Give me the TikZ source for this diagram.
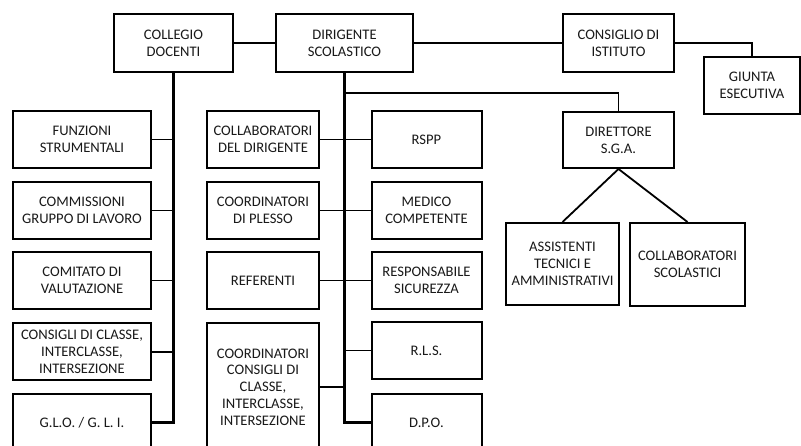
\documentclass[tikz,border=0pt]{standalone}
\usepackage{fontspec}
\setmainfont{Carlito}
\usepackage{xcolor}
\usetikzlibrary{positioning,calc}

\begin{document}
\begin{tikzpicture}[x=1pt,y=-1pt,
    box/.style={draw,line width=2pt,align=center,inner sep=1pt,text=black!90,
        font=\fontsize{14.6}{16.8}\selectfont},
    link/.style={line width=1.8pt},
    trunk/.style={line width=2.4pt}]
    \clip (0,0) rectangle (801,446);
    \fill[white] (0,0) rectangle (801,446);

    % Top row
    \node[box,minimum width=119pt,minimum height=58pt] (collegio) at (173.5,43) {COLLEGIO\\DOCENTI};
    \node[box,minimum width=137pt,minimum height=58pt] (dirigente) at (344.5,43) {DIRIGENTE\\SCOLASTICO};
    \node[box,minimum width=111pt,minimum height=58pt] (consiglio) at (618.5,43) {CONSIGLIO DI\\ISTITUTO};
    \node[box,minimum width=96pt,minimum height=57pt] (giunta) at (752,85.5) {GIUNTA\\ESECUTIVA};
    \draw[link] (collegio) -- (dirigente);
    \draw[link] (dirigente) -- (consiglio);
    \draw[link] (consiglio.east) -| (giunta.north);

    % Left column
    \begin{scope}[every node/.style={box,minimum width=138pt,minimum height=57pt}]
        \node (funzioni) at (82,139.5) {FUNZIONI\\STRUMENTALI};
        \node (commissioni) at (82,210.5) {COMMISSIONI\\GRUPPO DI LAVORO};
        \node (comitato) at (82,280.5) {COMITATO DI\\VALUTAZIONE};
        \node (consigli) at (82,352) {CONSIGLI DI CLASSE,\\INTERCLASSE,\\INTERSEZIONE};
        \node (glo) at (82,422.5) {G.L.O. / G. L. I.};
    \end{scope}
    \draw[trunk] (collegio.south) |- (glo.east);
    \draw[link] (funzioni.east) -- (funzioni.east -| collegio.south);
    \draw[link] (commissioni.east) -- (commissioni.east -| collegio.south);
    \draw[link] (comitato.east) -- (comitato.east -| collegio.south);
    \draw[link] (consigli.east) -- (consigli.east -| collegio.south);

    % Middle columns
    \begin{scope}[every node/.style={box,minimum width=112pt,minimum height=57pt}]
        \node (collabdir) at (263,139.5) {COLLABORATORI\\DEL DIRIGENTE};
        \node (plesso) at (263,210.5) {COORDINATORI\\DI PLESSO};
        \node (referenti) at (263,280.5) {REFERENTI};
        \node[minimum height=128pt] (coordcons) at (263,387) {COORDINATORI\\CONSIGLI DI\\CLASSE,\\INTERCLASSE,\\INTERSEZIONE};
    \end{scope}
    \begin{scope}[every node/.style={box,minimum width=110pt,minimum height=57pt}]
        \node (rspp) at (426.5,139.5) {RSPP};
        \node (medico) at (426.5,210.5) {MEDICO\\COMPETENTE};
        \node (sicurezza) at (426.5,280.5) {RESPONSABILE\\SICUREZZA};
        \node (rls) at (426.5,350.5) {R.L.S.};
        \node (dpo) at (426.5,422.5) {D.P.O.};
    \end{scope}
    \draw[trunk] (dirigente.south) |- (dpo.west);
    \draw[link] (collabdir) -- (rspp);
    \draw[link] (plesso) -- (medico);
    \draw[link] (referenti) -- (sicurezza);
    \draw[link] (rls.west) -- (rls.west -| dirigente.south);
    \draw[link] (coordcons.east) -- (coordcons.east -| dirigente.south);

    % Direttore S.G.A.
    \node[box,minimum width=111pt,minimum height=56pt] (direttore) at (618.5,140) {DIRETTORE\\S.G.A.};
    \node[box,minimum width=113pt,minimum height=82pt] (assistenti) at (562.5,264) {ASSISTENTI\\TECNICI E\\AMMINISTRATIVI};
    \node[box,minimum width=115pt,minimum height=83pt] (collabscol) at (687.5,264.5) {COLLABORATORI\\SCOLASTICI};
    \coordinate (branch) at ($(dirigente.south)+(0,20)$);
    \draw[link] (branch) -| (direttore.north);
    \draw[link] (direttore.south) -- (assistenti.north);
    \draw[link] (direttore.south) -- (collabscol.north);
\end{tikzpicture}
\end{document}
